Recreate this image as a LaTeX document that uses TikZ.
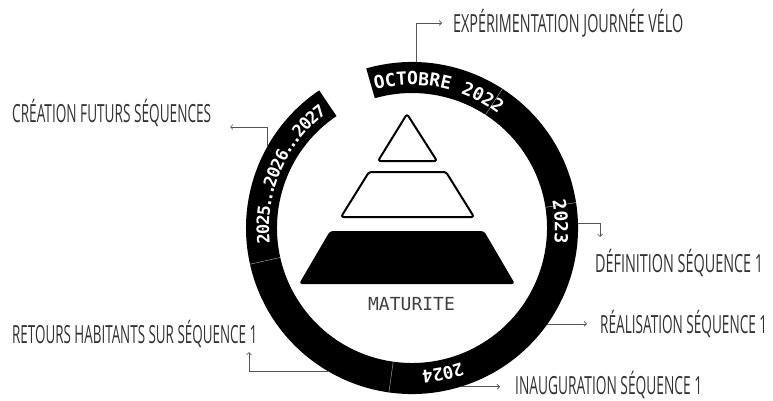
\documentclass[tikz,border=0pt]{standalone}
\usepackage{fontspec}
\usepackage{graphicx}
\usetikzlibrary{arrows.meta,calc}
\newfontfamily\ringfont{DejaVu Sans Mono}
\newfontfamily\handfont{Open Sans}
\newfontfamily\matfont{DejaVu Sans Mono}
\definecolor{labelgray}{HTML}{333333}
\definecolor{connGray}{HTML}{555555}
\newcommand\handlbl[2]{\resizebox{#1}{\height}{\handfont\fontsize{25}{25}\selectfont #2}}
\def\rtrad{143}
\newcommand\ringtext[4]{%
  \xdef\rtang{#2}%
  \foreach \ch/\dw [count=\k] in {#4} {%
    \pgfmathsetmacro\rtmid{\rtang-\dw/2}%
    \node[ringchar, font={\ringfont\bfseries\fontsize{#3}{#3}\selectfont}, rotate=\rtmid-90] (#1\k) at ($(C)+(\rtmid:\rtrad)$) {\ch};%
    \pgfmathsetmacro\rtnext{\rtang-\dw}%
    \xdef\rtang{\rtnext}%
  }%
}
\tikzset{
  ringchar/.style={text=white, inner sep=0pt, anchor=base},
  conn/.style={draw=connGray, line width=0.7pt, -{Straight Barb[length=2.5pt,width=5pt]}},
  divider/.style={draw=gray!55, line width=0.4pt},
  hand/.style={inner sep=0pt, anchor=base west, text=labelgray},
  pyr/.style={draw=black, line width=2pt, rounded corners=2.5pt, line join=round},
}
\begin{document}
\begin{tikzpicture}[x=1pt,y=1pt]
\useasboundingbox (0,0) rectangle (773,400);
\coordinate (C) at (412,172);
% ring
\fill[black] ($(C)+(106:166)$) arc[start angle=106,end angle=-236,radius=166]
  -- ($(C)+(-236:135)$) arc[start angle=-236,end angle=106,radius=135] -- cycle;
% dividers
\foreach \a in {57,8.8,262,192.6}{
  \draw[divider] ($(C)+(\a:135)$) -- ($(C)+(\a:166)$);
}
% ring labels
\ringtext{oct}{104.8}{18}{O/4.3,C/4.3,T/4.3,O/4.3,B/4.3,R/4.3,E/4.3,{}/4.6,2/4.3,0/4.3,2/4.3,2/4.3}
\ringtext{y23}{11}{18}{2/4.3,0/4.3,2/4.3,3/4.3}
\ringtext{y24}{-70}{17.5}{2/4.0,0/4.0,2/4.0,4/4.0}
\ringtext{y25}{186}{17}{2/3.65,0/3.65,2/3.65,5/3.65,{.}/2.6,{.}/2.6,{.}/2.6,2/3.65,0/3.65,2/3.65,6/3.65,{.}/2.6,{.}/2.6,{.}/2.6,2/3.65,0/3.65,2/3.65,7/3.65}
% pyramid
\draw[pyr] (407,286) -- (437,239) -- (378,239) -- cycle;
\draw[pyr] (369,228) -- (446,228) -- (474,183) -- (341,183) -- cycle;
\fill[black, rounded corners=3pt] (330,169) -- (484,169) -- (515,116) -- (299,116) -- cycle;
\node[font={\matfont\fontsize{18}{18}\selectfont}, text=black!75, inner sep=0pt] (mat) at (411.5,95.5) {MATURITE};
% labels
\node[hand] (lExp) at (453,367) {\handlbl{230pt}{EXPÉRIMENTATION JOURNÉE VÉLO}};
\node[hand] (lCre) at (12,278) {\handlbl{199pt}{CRÉATION FUTURS SÉQUENCES}};
\node[hand] (lDef) at (595,128) {\handlbl{168pt}{DÉFINITION SÉQUENCE 1}};
\node[hand] (lRea) at (600,67) {\handlbl{167pt}{RÉALISATION SÉQUENCE 1}};
\node[hand] (lIna) at (515,6) {\handlbl{187pt}{INAUGURATION SÉQUENCE 1}};
\node[hand] (lRet) at (12,57) {\handlbl{245pt}{RETOURS HABITANTS SUR SÉQUENCE 1}};
% connectors
\coordinate (aOct) at ($(C)+(88.6:166)$);
\coordinate (eOct) at (442,377);
\draw[conn] (aOct) |- (eOct);
\coordinate (aCre) at ($(C)+(150.9:166)$);
\coordinate (eCre) at (230,273);
\draw[conn] (aCre) |- (eCre);
\coordinate (aDef) at ($(C)+(1.7:166)$);
\coordinate (eDef) at (600,163);
\draw[conn] (aDef) -| (eDef);
\coordinate (aRea) at ($(C)+(-35.3:166)$);
\coordinate (eRea) at (587,76);
\draw[conn] (aRea) -- (aRea -| eRea);
\coordinate (aIna) at ($(C)+(-73:166)$);
\coordinate (eIna) at (500,13);
\draw[conn] (aIna) -- (aIna -| eIna);
\coordinate (aRet) at ($(C)+(239.5:166)$);
\coordinate (eRet) at (249,48);
\draw[conn] (aRet) -| (eRet);
\end{tikzpicture}
\end{document}
